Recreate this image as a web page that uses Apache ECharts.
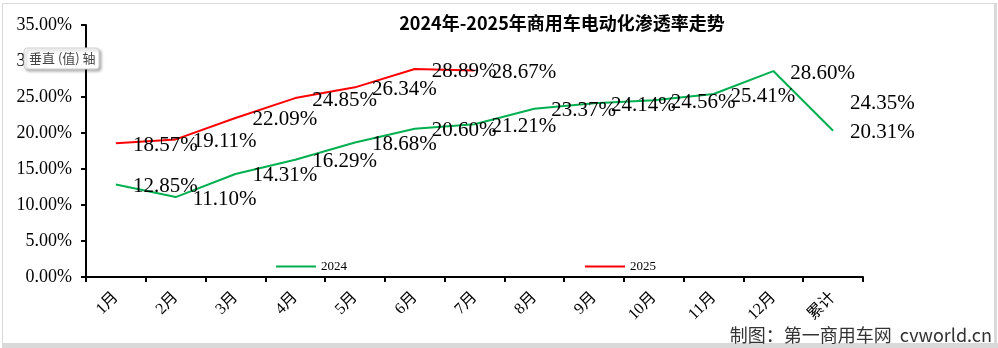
<!DOCTYPE html>
<html>
<head>
<meta charset="utf-8">
<script src="https://cdn.jsdelivr.net/npm/echarts@6/dist/echarts.min.js"></script>
<style>
  html, body { margin: 0; padding: 0; background: #fff; }
  #chart { width: 998px; height: 348px; }
</style>
</head>
<body>
<div id="chart"></div>
<script>
// Categories along the x axis
const months = ['1月', '2月', '3月', '4月', '5月', '6月', '7月', '8月', '9月', '10月', '11月', '12月', '累计'];

// Penetration rate (%) per month, last entry is the cumulative figure
const rate2024 = [12.85, 11.10, 14.31, 16.29, 18.68, 20.60, 21.21, 23.37, 24.14, 24.56, 25.41, 28.60, 20.31];
const rate2025 = [18.57, 19.11, 22.09, 24.85, 26.34, 28.89, 28.67, null, null, null, null, null, 24.35];

// Value axis range
const yMin = 0;
const yMax = 35;
const yStep = 5;

const seriesNames = ['2024', '2025'];
const seriesColors = ['#00B050', '#FF0000'];

const serifFont = '"Liberation Serif", "Noto Sans CJK SC", serif';

const chart = echarts.init(document.getElementById('chart'), null, { renderer: 'canvas' });

function makeSeries(name, data, color) {
  return {
    name: name,
    type: 'line',
    data: data,
    symbol: 'circle',
    symbolSize: 0,
    showSymbol: true,
    connectNulls: false,
    lineStyle: { color: color, width: 2 },
    itemStyle: { color: color },
    label: {
      show: true,
      position: 'right',
      distance: 17,
      offset: [0, 2],
      color: '#000',
      fontFamily: serifFont,
      fontSize: 21,
      formatter: p => p.value == null ? '' : Number(p.value).toFixed(2) + '%'
    },
    emphasis: { disabled: true },
    z: 3
  };
}

const option = {
  animation: false,
  backgroundColor: '#fff',
  title: {
    text: '2024年-2025年商用车电动化渗透率走势',
    left: 557,
    textAlign: 'center',
    top: 9,
    textStyle: {
      fontFamily: '"Noto Sans CJK SC", sans-serif',
      fontWeight: 'bold',
      fontSize: 18,
      color: '#000'
    }
  },
  legend: {
    data: seriesNames,
    left: 271,
    top: 255,
    icon: 'rect',
    itemWidth: 40,
    itemHeight: 2,
    itemGap: 238,
    textStyle: { fontFamily: serifFont, fontSize: 13, color: '#000' }
  },
  grid: { left: 86, right: 135, top: 25, bottom: 71, containLabel: false },
  xAxis: {
    type: 'category',
    data: months,
    boundaryGap: true,
    axisLine: { lineStyle: { color: '#000', width: 2 } },
    axisTick: { show: true, length: 5, lineStyle: { color: '#000', width: 2 } },
    axisLabel: {
      rotate: 45,
      margin: 18,
      interval: 0,
      fontFamily: serifFont,
      fontSize: 16,
      color: '#000'
    },
    splitLine: { show: false }
  },
  yAxis: {
    type: 'value',
    min: yMin,
    max: yMax,
    interval: yStep,
    axisLine: { show: true, lineStyle: { color: '#000', width: 2 } },
    axisTick: { show: true, length: 5, lineStyle: { color: '#000', width: 2 } },
    axisLabel: {
      margin: 14,
      fontFamily: serifFont,
      fontSize: 18,
      color: '#000',
      formatter: v => v.toFixed(2) + '%'
    },
    splitLine: { show: false }
  },
  series: [
    makeSeries(seriesNames[0], rate2024, seriesColors[0]),
    makeSeries(seriesNames[1], rate2025, seriesColors[1])
  ],
  graphic: [
    // outer frame
    {
      type: 'rect',
      z: 100,
      shape: { x: 2.5, y: 3.5, width: 993, height: 342 },
      style: { fill: null, stroke: '#d9d9d9', lineWidth: 1 }
    },
    {
      type: 'rect',
      z: 100,
      shape: { x: 994, y: 3, width: 3, height: 345 },
      style: { fill: '#d9d9d9' }
    },
    {
      type: 'rect',
      z: 100,
      shape: { x: 2, y: 343, width: 996, height: 5 },
      style: { fill: '#d9d9d9' }
    },
    // axis hint box
    {
      type: 'rect',
      z: 100,
      zlevel: 1,
      shape: { x: 24, y: 48, width: 75, height: 21, r: 3 },
      style: {
        fill: '#fff',
        stroke: '#d0d0d0',
        lineWidth: 1,
        shadowBlur: 3,
        shadowOffsetX: 2,
        shadowOffsetY: 2,
        shadowColor: 'rgba(0,0,0,0.3)'
      }
    },
    {
      type: 'text',
      z: 101,
      zlevel: 1,
      style: {
        x: 29,
        y: 58.5,
        text: '垂直 (值) 轴',
        fill: '#444',
        font: '13px "Noto Sans CJK SC", sans-serif',
        verticalAlign: 'middle'
      }
    },
    // source note
    {
      type: 'text',
      z: 100,
      style: {
        x: 992,
        y: 335,
        text: '制图：第一商用车网  cvworld.cn',
        fill: '#333',
        font: '18px "Noto Sans CJK SC", sans-serif',
        align: 'right',
        verticalAlign: 'middle'
      }
    }
  ]
};

chart.setOption(option);
</script>
</body>
</html>
